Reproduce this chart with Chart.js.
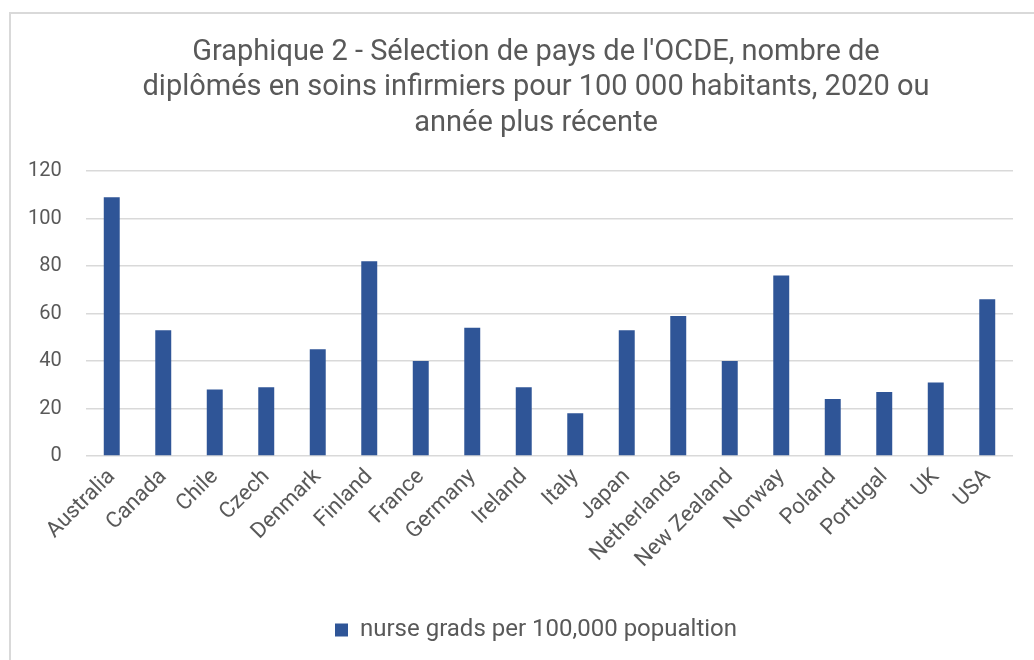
<!DOCTYPE html>
<html lang="fr">
<head>
<meta charset="utf-8">
<title>Graphique 2</title>
<script src="https://cdn.jsdelivr.net/npm/chart.js@4"></script>
<style>
  html, body { margin: 0; padding: 0; background: #fff; overflow: hidden; }
  #frame {
    position: absolute; left: 9px; top: 12px;
    width: 1100px; height: 700px;
    border: 2px solid #d9d9d9;
    box-sizing: border-box;
  }
  #wrap { position: absolute; left: 0; top: 0; width: 1072px; height: 660px; }
</style>
</head>
<body>
<div id="frame"></div>
<div id="wrap"><canvas id="chart"></canvas></div>
<script>
'use strict';

const titleLines = [
  "Graphique 2 - Sélection de pays de l'OCDE, nombre de",
  "diplômés en soins infirmiers pour 100 000 habitants, 2020 ou",
  "année plus récente"
];

const countries = [
  'Australia', 'Canada', 'Chile', 'Czech', 'Denmark', 'Finland', 'France',
  'Germany', 'Ireland', 'Italy', 'Japan', 'Netherlands', 'New Zealand',
  'Norway', 'Poland', 'Portugal', 'UK', 'USA'
];

const nurseGrads = [109, 53, 28, 29, 45, 82, 40, 54, 29, 18, 53, 59, 40, 76, 24, 27, 31, 66];

const seriesName = 'nurse grads per 100,000 popualtion';

const yTicks = { min: 0, max: 120, step: 20 };

const TEXT = '#595959';
const FONT = 'Roboto, "Open Sans", sans-serif';

function renderChart() {
  const ctx = document.getElementById('chart');

  // left/right padding kept equal so title + legend centre on the frame.
  // y labels are mirrored (no clipping) and pulled back left with a negative padding
  new Chart(ctx, {
    type: 'bar',
    data: {
      labels: countries,
      datasets: [{
        label: seriesName,
        data: nurseGrads,
        backgroundColor: '#2F5597',
        borderWidth: 0,
        barPercentage: 1,
        categoryPercentage: 0.31
      }]
    },
    options: {
      responsive: true,
      maintainAspectRatio: false,
      animation: false,
      layout: { padding: { left: 59, right: 59, top: 0, bottom: 8 } },
      scales: {
        x: {
          grid: { display: false },
          border: { display: false },
          ticks: {
            color: TEXT,
            font: { family: FONT, size: 22 },
            minRotation: 45,
            maxRotation: 45,
            padding: 0,
            autoSkip: false
          },
          afterFit: scale => { scale.height = 150; }
        },
        y: {
          min: yTicks.min,
          max: yTicks.max,
          border: { display: false },
          grid: { color: '#d9d9d9', lineWidth: 1.5, drawTicks: false },
          ticks: {
            stepSize: yTicks.step,
            color: TEXT,
            font: { family: FONT, size: 20 },
            mirror: true,
            crossAlign: 'far',
            padding: -58
          },
          afterFit: scale => { scale.width = 27; }
        }
      },
      plugins: {
        title: {
          display: true,
          text: titleLines,
          color: TEXT,
          font: { family: FONT, size: 29, weight: 'normal', lineHeight: 1.22 },
          padding: { top: 35, bottom: 30 }
        },
        legend: {
          position: 'bottom',
          labels: {
            color: TEXT,
            font: { family: FONT, size: 24 },
            boxWidth: 13,
            boxHeight: 13,
            padding: 12
          }
        },
        tooltip: { enabled: false }
      }
    }
  });
}

document.addEventListener('DOMContentLoaded', renderChart);
</script>
</body>
</html>
